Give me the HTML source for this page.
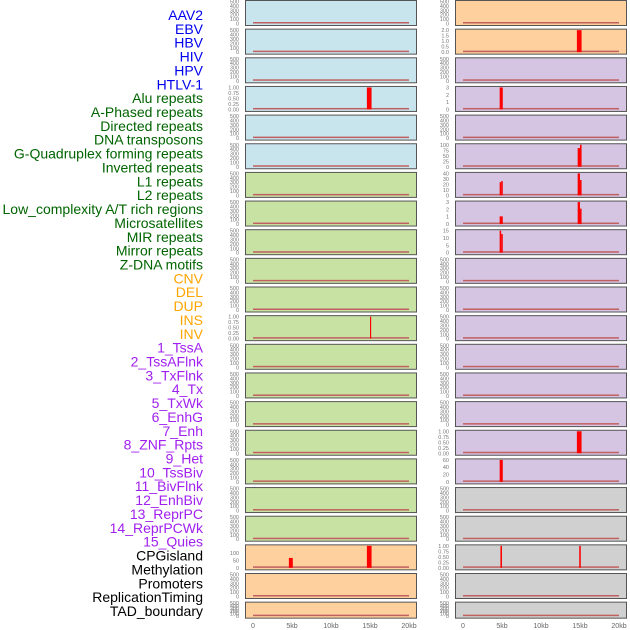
<!DOCTYPE html>
<html><head><meta charset="utf-8">
<style>
html,body{margin:0;padding:0;background:#fff;width:630px;height:630px;overflow:hidden}
svg text{font-family:"Liberation Sans",sans-serif}
</style></head><body>
<svg id="s" width="630" height="630" xmlns="http://www.w3.org/2000/svg"></svg>
<script>
var s=document.getElementById('s'),h='';
var labels=[["AAV2","#0000ee"],["EBV","#0000ee"],["HBV","#0000ee"],["HIV","#0000ee"],["HPV","#0000ee"],["HTLV-1","#0000ee"],
["Alu repeats","#006400"],["A-Phased repeats","#006400"],["Directed repeats","#006400"],["DNA transposons","#006400"],["G-Quadruplex forming repeats","#006400"],["Inverted repeats","#006400"],["L1 repeats","#006400"],["L2 repeats","#006400"],["Low_complexity A/T rich regions","#006400"],["Microsatellites","#006400"],["MIR repeats","#006400"],["Mirror repeats","#006400"],["Z-DNA motifs","#006400"],
["CNV","#ffa500"],["DEL","#ffa500"],["DUP","#ffa500"],["INS","#ffa500"],["INV","#ffa500"],
["1_TssA","#a020f0"],["2_TssAFlnk","#a020f0"],["3_TxFlnk","#a020f0"],["4_Tx","#a020f0"],["5_TxWk","#a020f0"],["6_EnhG","#a020f0"],["7_Enh","#a020f0"],["8_ZNF_Rpts","#a020f0"],["9_Het","#a020f0"],["10_TssBiv","#a020f0"],["11_BivFlnk","#a020f0"],["12_EnhBiv","#a020f0"],["13_ReprPC","#a020f0"],["14_ReprPCWk","#a020f0"],["15_Quies","#a020f0"],
["CPGisland","#000"],["Methylation","#000"],["Promoters","#000"],["ReplicationTiming","#000"],["TAD_boundary","#000"]];
labels.forEach(function(l,i){h+='<text x="203" y="'+(20+i*13.86)+'" text-anchor="end" font-size="14" fill="'+l[1]+'">'+l[0]+'</text>';});
var B="#c8e4ec",G="#c8e2a4",O="#fdd09e",P="#d5c4e2",Y="#d0d0d0";
function col(L,i){if(L){return i<6?B:(i<19?G:O);}return i<2?O:(i<17?P:Y);}
var bars={L:{3:[[14.6,15.2,1]],11:[[15,15.15,1]],19:[[4.6,5.1,0.45],[14.6,15.2,1]]},
R:{1:[[14.6,15.2,1]],3:[[4.7,5.1,1]],5:[[14.7,15.0,0.85],[15.0,15.2,1]],6:[[4.7,4.9,0.6],[4.9,5.1,0.65],[14.7,15.0,1],[15.0,15.2,0.7]],7:[[4.7,5.1,0.35],[14.7,15.0,1],[15.0,15.2,0.7]],8:[[4.7,4.9,1],[4.9,5.1,0.85]],15:[[14.6,15.2,1]],16:[[4.7,5.1,1]],19:[[4.8,5.0,1],[14.9,15.1,1]]}};
var ticks={L:{3:["1.00","0.75","0.50","0.25","0.00"],11:["1.00","0.75","0.50","0.25","0.00"],19:["","100","50","0"]},
R:{1:["2.0","1.5","1.0","0.5","0.0"],3:["3","2","1","0"],5:["100","75","50","25","0"],6:["40","30","20","10","0"],7:["3","2","1","0"],8:["15","10","5","0"],15:["1.00","0.75","0.50","0.25","0.00"],16:["60","40","20","0"],19:["1.00","0.75","0.50","0.25","0.00"]}};
var def=["500","400","300","200","100","0"];
for(var i=0;i<22;i++){
 var y=i*28.65, ht=(i==21)?16:25;
 [["L",245,253],["R",455,463]].forEach(function(p){
  var k=p[0],x=p[1],x0=p[2];
  h+='<rect x="'+x+'.5" y="'+(y+0.5)+'" width="171" height="'+ht+'" fill="'+col(k=="L",i)+'" stroke="#555" stroke-width="1"/>';
  var bot=y+ht-1.5, top=y+1.5;
  h+='<rect x="'+x0+'" y="'+(bot-1.5)+'" width="156" height="1.5" fill="#c06060"/>';
  (bars[k][i]||[]).forEach(function(b){var bx=x0+b[0]*7.8,bw=(b[1]-b[0])*7.8,bh=(bot-top)*b[2];
   h+='<rect x="'+bx+'" y="'+(bot-bh)+'" width="'+bw+'" height="'+bh+'" fill="#ff0000"/>';});
  var t=(ticks[k][i])||def,n=t.length;
  for(var j=0;j<n;j++){var ty=top+ (bot-top)*j/(n-1);
   h+='<text x="'+(x-6)+'" y="'+(ty+2)+'" text-anchor="end" font-size="5.5" fill="#777">'+t[j]+'</text>';}
 });
}
["0","5kb","10kb","15kb","20kb"].forEach(function(t,j){
 h+='<text x="'+(253+j*39)+'" y="628" text-anchor="middle" font-size="7" fill="#666">'+t+'</text>';
 h+='<text x="'+(463+j*39)+'" y="628" text-anchor="middle" font-size="7" fill="#666">'+t+'</text>';});
s.innerHTML=h;
</script>
</body></html>
